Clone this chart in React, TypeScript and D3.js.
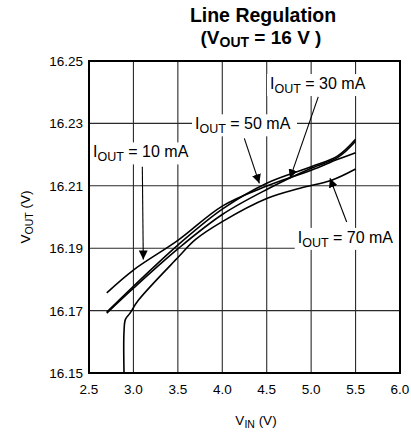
import React from "react";
import * as d3 from "d3";

// axis ticks
const xTicks = [2.5, 3.0, 3.5, 4.0, 4.5, 5.0, 5.5, 6.0];
const yTicks = [16.15, 16.17, 16.19, 16.21, 16.23, 16.25];
const xGrid = [3.0, 3.5, 4.0, 4.5, 5.0, 5.5];
const yGrid = [16.17, 16.19, 16.21, 16.23];

// curves
const vin10 = [2.7, 3.0, 3.5, 4.0, 4.5, 5.0, 5.3, 5.5];
const vout10 = [16.1757, 16.183, 16.1925, 16.2035, 16.2099, 16.215, 16.2185, 16.2206];

const vin30 = [2.7, 3.0, 3.5, 4.0, 4.5, 5.0, 5.3, 5.5];
const vout30 = [16.1695, 16.1778, 16.191, 16.2025, 16.2108, 16.2161, 16.2196, 16.2249];

const vin50 = [2.7, 3.0, 3.5, 4.0, 4.5, 5.0, 5.3, 5.5];
const vout50 = [16.1692, 16.1772, 16.1898, 16.2008, 16.2088, 16.2156, 16.2191, 16.2243];

const vin70 = [2.894, 2.894, 2.91, 2.96, 3.055, 3.5, 3.7, 4.0, 4.5, 4.875, 5.23, 5.5];
const vout70 = [16.15, 16.1632, 16.1672, 16.1691, 16.1733, 16.187, 16.1928, 16.1985, 16.2059, 16.2092, 16.2118, 16.2154];

// annotations
const labelCurrent = ["10 mA", "30 mA", "50 mA", "70 mA"];
const labelX = [2.545, 4.537, 3.693, 4.849];
const labelY = [16.2191, 16.241, 16.2281, 16.1917];
const arrowFromX = [3.1, 5.08, 4.248, 5.4];
const arrowFromY = [16.2161, 16.2385, 16.2252, 16.1984];
const arrowToX = [3.111, 4.762, 4.417, 5.212];
const arrowToY = [16.1864, 16.2124, 16.2108, 16.2124];

const W = 411;
const H = 432;
const margin = { top: 61, right: 11, bottom: 59, left: 89 };
const font = "Liberation Sans, Arial, Helvetica, sans-serif";

export default function App() {
  const x = d3.scaleLinear().domain([2.5, 6.0]).range([margin.left, W - margin.right]);
  const y = d3.scaleLinear().domain([16.15, 16.25]).range([H - margin.bottom, margin.top]);

  const line = d3
    .line<[number, number]>()
    .x((d) => x(d[0]))
    .y((d) => y(d[1]))
    .curve(d3.curveCatmullRom.alpha(0.5));

  const series = [
    [vin10, vout10],
    [vin30, vout30],
    [vin50, vout50],
    [vin70, vout70],
  ].map(([xs, ys]) => xs.map((v, i) => [v, ys[i]] as [number, number]));

  const x0 = x(2.5), x1 = x(6.0), y0 = y(16.15), y1 = y(16.25);

  return (
    <svg width={W} height={H} style={{ position: "absolute", left: 0, top: 0, background: "#fff" }} fontFamily={font}>
      <defs>
        <marker id="ah" markerUnits="userSpaceOnUse" markerWidth={10} markerHeight={9} refX={9} refY={4.5} orient="auto">
          <path d="M0,0 L9,4.5 L0,9 Z" fill="#000" />
        </marker>
      </defs>

      {/* grid */}
      {xGrid.map((v) => (
        <line key={"gx" + v} x1={x(v)} x2={x(v)} y1={y1} y2={y0} stroke="#2a2a2a" strokeWidth={1.1} />
      ))}
      {yGrid.map((v) => (
        <line key={"gy" + v} x1={x0} x2={x1} y1={y(v)} y2={y(v)} stroke="#2a2a2a" strokeWidth={1.1} />
      ))}

      {/* label backgrounds break the grid */}
      {labelCurrent.map((t, i) => (
        <rect key={"bg" + i} x={x(labelX[i]) - 3} y={y(labelY[i]) - 15} width={105} height={22} fill="#fff" />
      ))}

      {/* curves */}
      {series.map((s, i) => (
        <path key={"s" + i} d={line(s) || ""} fill="none" stroke="#000" strokeWidth={1.6} />
      ))}

      {/* arrows */}
      {labelCurrent.map((t, i) => (
        <line
          key={"ar" + i}
          x1={x(arrowFromX[i])}
          y1={y(arrowFromY[i])}
          x2={x(arrowToX[i])}
          y2={y(arrowToY[i])}
          stroke="#000"
          strokeWidth={1.1}
          markerEnd="url(#ah)"
        />
      ))}

      {/* labels */}
      {labelCurrent.map((t, i) => (
        <text key={"lb" + i} x={x(labelX[i])} y={y(labelY[i])} fontSize={16} fill="#000">
          <tspan>I</tspan>
          <tspan dy={4} fontSize={12.5}>OUT</tspan>
          <tspan dy={-4}>{" = " + t}</tspan>
        </text>
      ))}

      {/* frame */}
      <rect x={x0} y={y1} width={x1 - x0} height={y0 - y1} fill="none" stroke="#000" strokeWidth={2} />

      {/* tick labels */}
      {xTicks.map((v) => (
        <text key={"tx" + v} x={x(v)} y={y0 + 21} textAnchor="middle" fontSize={13.5}>
          {d3.format(".1f")(v)}
        </text>
      ))}
      {yTicks.map((v) => (
        <text key={"ty" + v} x={x0 - 6} y={y(v) + 5} textAnchor="end" fontSize={13.5}>
          {d3.format(".2f")(v)}
        </text>
      ))}

      {/* axis titles */}
      <text x={256} y={425} textAnchor="middle" fontSize={13.5}>
        <tspan>V</tspan>
        <tspan dy={3} fontSize={10.5}>IN</tspan>
        <tspan dy={-3}> (V)</tspan>
      </text>
      <text transform={`translate(30, ${(y0 + y1) / 2}) rotate(-90)`} textAnchor="middle" fontSize={13.5}>
        <tspan>V</tspan>
        <tspan dy={3} fontSize={10.5}>OUT</tspan>
        <tspan dy={-3}> (V)</tspan>
      </text>

      {/* title */}
      <text x={263} y={22} textAnchor="middle" fontSize={19.5} fontWeight="bold">
        Line Regulation
      </text>
      <text x={261} y={44} textAnchor="middle" fontSize={19} fontWeight="bold">
        <tspan>(V</tspan>
        <tspan dy={3} fontSize={14}>OUT</tspan>
        <tspan dy={-3}> = 16 V )</tspan>
      </text>
    </svg>
  );
}
